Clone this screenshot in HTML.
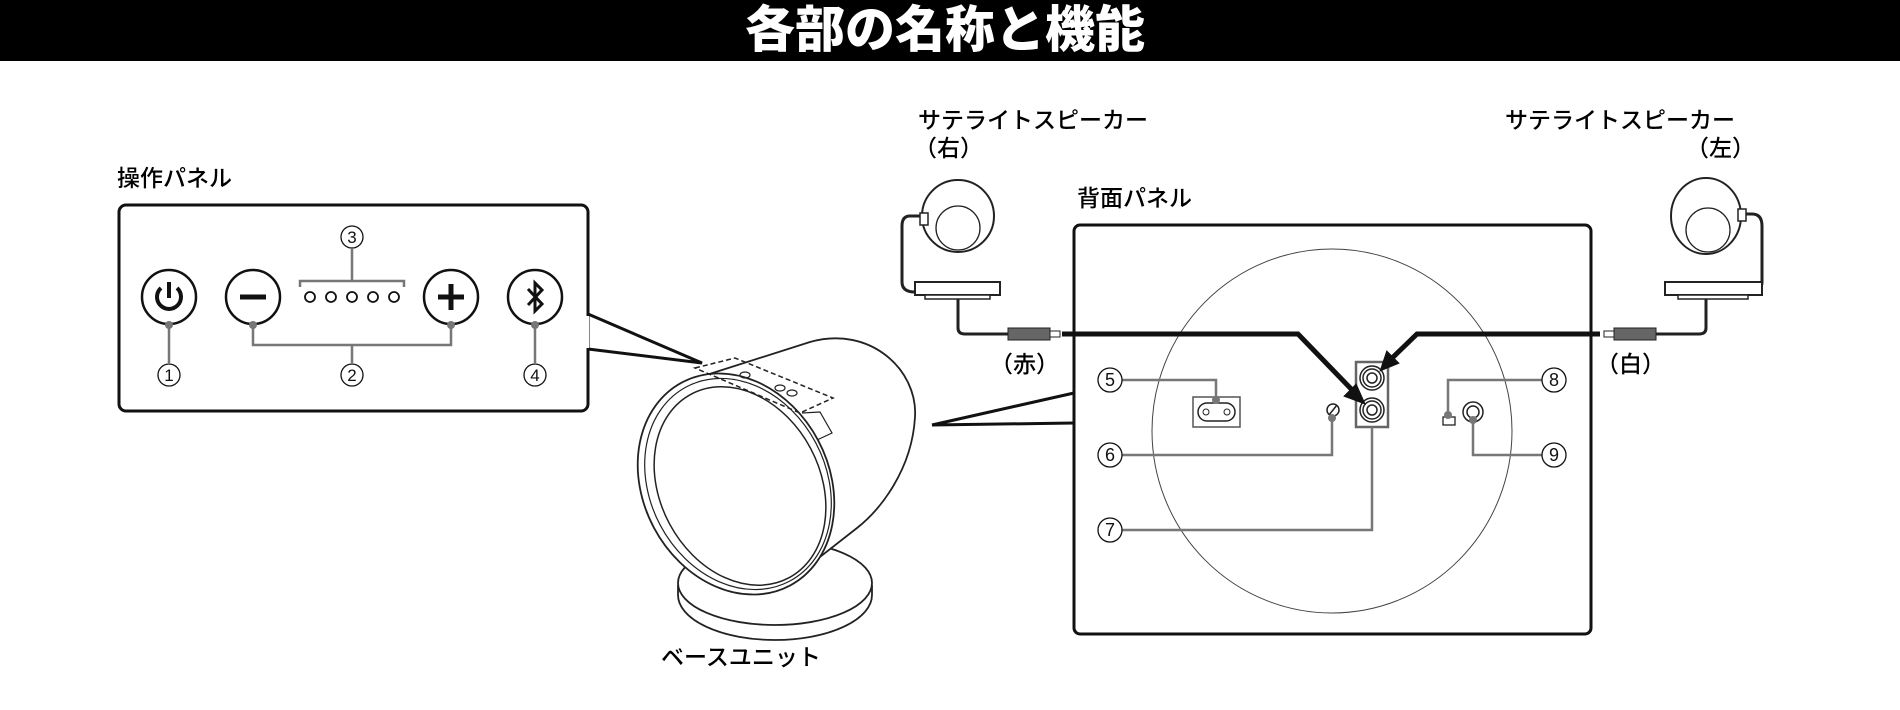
<!DOCTYPE html>
<html><head><meta charset="utf-8"><style>
html,body{margin:0;padding:0;background:#fff;}
svg{display:block;}
text{font-family:"Liberation Sans","Noto Sans CJK JP",sans-serif;}
</style></head><body>
<svg width="1900" height="710" viewBox="0 0 1900 710" xmlns="http://www.w3.org/2000/svg">
<rect x="0" y="0" width="1900" height="61" fill="#000"/>
<text x="945" y="47" text-anchor="middle" font-size="50" font-weight="bold" fill="#fff" style="font-family:'Noto Sans CJK JP',sans-serif;font-weight:900">各部の名称と機能</text>

<g font-size="23" fill="#000" style="font-family:'Noto Sans CJK JP',sans-serif;font-weight:500">
<text x="117" y="186">操作パネル</text>
<text x="918" y="128">サテライトスピーカー</text>
<text x="914" y="156">（右）</text>
<text x="1077" y="206">背面パネル</text>
<text x="1505" y="128">サテライトスピーカー</text>
<text x="1686" y="156">（左）</text>
<text x="990" y="372">（赤）</text>
<text x="1596" y="372">（白）</text>
<text x="661" y="665">ベースユニット</text>
</g>

<!-- operation panel -->
<rect x="119" y="205" width="469" height="206" rx="7" fill="none" stroke="#111" stroke-width="3"/>
<g fill="none" stroke="#111" stroke-width="2.5">
<circle cx="169" cy="297" r="27"/>
<circle cx="253" cy="297" r="27"/>
<circle cx="451" cy="297" r="27"/>
<circle cx="535" cy="297" r="27"/>
</g>
<path d="M161 288 A12 12 0 1 0 177 288 M169 282 V298" fill="none" stroke="#111" stroke-width="4"/>
<path d="M240 297 H266" stroke="#111" stroke-width="5"/>
<path d="M438 297 H464 M451 284 V310" stroke="#111" stroke-width="5"/>
<path d="M528 289 L542 304 L535 311 V283 L542 290 L528 305" fill="none" stroke="#111" stroke-width="3"/>
<g fill="none" stroke="#111" stroke-width="1.8">
<circle cx="310" cy="297" r="5"/><circle cx="331" cy="297" r="5"/><circle cx="352" cy="297" r="5"/><circle cx="373" cy="297" r="5"/><circle cx="394" cy="297" r="5"/>
</g>
<g fill="none" stroke="#777" stroke-width="2.5">
<path d="M300 287 V281 H404 V287 M352 281 V249"/>
<path d="M169 325 V363"/>
<path d="M253 325 V345 H451 V325 M352 345 V363"/>
<path d="M535 325 V363"/>
</g>
<g fill="#777"><circle cx="169" cy="325" r="4"/><circle cx="253" cy="325" r="4"/><circle cx="451" cy="325" r="4"/><circle cx="535" cy="325" r="4"/></g>
<g fill="#fff" stroke="#111" stroke-width="1.3">
<circle cx="352" cy="237" r="11"/><circle cx="169" cy="375" r="11"/><circle cx="352" cy="375" r="11"/><circle cx="535" cy="375" r="11"/>
</g>
<g font-size="17" text-anchor="middle" fill="#111">
<text x="352" y="243">3</text><text x="169" y="381">1</text><text x="352" y="381">2</text><text x="535" y="381">4</text>
</g>
<!-- callout to panel -->
<path d="M588 314 L702 363 L588 349" fill="none" stroke="#111" stroke-width="3"/>
<rect x="586" y="316" width="3" height="32" fill="#fff"/>

<!-- base unit -->
<g fill="#fff" stroke="#222" stroke-width="1.8">
<path d="M678 585 L678 595 A97 45 0 0 0 872 595 L872 585" />
<ellipse cx="775" cy="583" rx="97" ry="42"/>
<path d="M700 377 L810 342 C870 325 918 370 915 417 C912 470 880 510 857 528 L820 557 Z"/>
<ellipse cx="736" cy="484" rx="93" ry="115" transform="rotate(-28 736 484)"/>
<ellipse cx="738" cy="484" rx="88" ry="110" transform="rotate(-28 738 484)" fill="none" stroke-width="1.2"/>
<ellipse cx="740" cy="486" rx="80" ry="104" transform="rotate(-28 740 486)" fill="none" stroke-width="1.5"/>
</g>
<path d="M695 368 L735 358 L833 398 L800 413 Z" fill="none" stroke="#222" stroke-width="1.5" stroke-dasharray="5,3"/>
<path d="M802 413 L820 412 L832 433 L817 440" fill="none" stroke="#222" stroke-width="1.2"/>
<g fill="none" stroke="#222" stroke-width="1.2">
<ellipse cx="745" cy="375" rx="5" ry="3"/><ellipse cx="780" cy="388" rx="5" ry="3"/><ellipse cx="792" cy="393" rx="5" ry="3"/>
</g>

<!-- speaker right -->
<g fill="#fff" stroke="#222" stroke-width="2">
<path d="M922 216 H910 Q902 216 902 226 V282 Q902 292 915 292" fill="none" stroke-width="3"/>
<rect x="915" y="282" width="85" height="13"/>
<rect x="925" y="295" width="65" height="4" stroke-width="1.5"/>
<circle cx="958" cy="216" r="36"/>
<circle cx="958" cy="228" r="22" stroke-width="1.3"/>
<rect x="920" y="213" width="8" height="12" stroke-width="1.5"/>
<path d="M958 299 V328 Q958 334 965 334 H1008" fill="none" stroke-width="3"/>
</g>
<rect x="1008" y="328" width="42" height="12" fill="#666" stroke="#222"/>
<rect x="1050" y="331" width="10" height="6" fill="#fff" stroke="#222"/>
<!-- speaker left -->
<g fill="#fff" stroke="#222" stroke-width="2">
<path d="M1741 214 H1752 Q1762 214 1762 226 V282 Q1762 292 1750 292" fill="none" stroke-width="3"/>
<rect x="1665" y="282" width="97" height="13"/>
<rect x="1678" y="295" width="70" height="4" stroke-width="1.5"/>
<ellipse cx="1706" cy="216" rx="35" ry="38"/>
<circle cx="1708" cy="230" r="22" stroke-width="1.3"/>
<rect x="1738" y="209" width="8" height="12" stroke-width="1.5"/>
<path d="M1706 299 V328 Q1706 334 1699 334 H1656" fill="none" stroke-width="3"/>
</g>
<rect x="1614" y="328" width="42" height="12" fill="#666" stroke="#222"/>
<rect x="1604" y="331" width="10" height="6" fill="#fff" stroke="#222"/>

<!-- rear panel -->
<path d="M932 425 L1074 393 M932 425 L1074 423" stroke="#111" stroke-width="3"/>
<rect x="1074" y="225" width="517" height="409" rx="6" fill="#fff" stroke="#111" stroke-width="3"/>
<ellipse cx="1332" cy="431" rx="180" ry="182" fill="none" stroke="#444" stroke-width="1"/>
<!-- jacks -->
<rect x="1356" y="362" width="32" height="65" fill="#fff" stroke="#666" stroke-width="2.5"/>
<g fill="none" stroke="#222" stroke-width="1.5">
<circle cx="1372" cy="378" r="12"/><circle cx="1372" cy="378" r="9"/><circle cx="1372" cy="378" r="5"/>
<circle cx="1372" cy="410" r="12"/><circle cx="1372" cy="410" r="9"/><circle cx="1372" cy="410" r="5"/>
</g>
<!-- cables -->
<path d="M1062 334 H1298 L1357 395" fill="none" stroke="#111" stroke-width="5"/>
<path d="M1364 403 L1345 396 L1356 385 Z" fill="#111" stroke="#111" stroke-width="2"/>
<path d="M1600 334 H1417 L1388 362" fill="none" stroke="#111" stroke-width="5"/>
<path d="M1381 370 L1387 352 L1398 363 Z" fill="#111" stroke="#111" stroke-width="2"/>
<!-- parts -->
<rect x="1193" y="397" width="47" height="30" fill="#fff" stroke="#555" stroke-width="1.5"/>
<path d="M1207 403 H1226 A9 9 0 0 1 1226 421 H1207 A9 9 0 0 1 1207 403 Z" fill="none" stroke="#222" stroke-width="1.5"/>
<circle cx="1206" cy="412" r="3" fill="none" stroke="#222"/><circle cx="1227" cy="412" r="3" fill="none" stroke="#222"/>
<circle cx="1333" cy="410" r="6" fill="#fff" stroke="#222" stroke-width="1.5"/>
<path d="M1329 415 L1337 405" stroke="#222" stroke-width="1.5"/>
<rect x="1443" y="417" width="12" height="8" fill="#fff" stroke="#222" stroke-width="1.3"/>
<circle cx="1473" cy="412" r="10" fill="#fff" stroke="#222" stroke-width="1.5"/>
<circle cx="1473" cy="412" r="6" fill="none" stroke="#222" stroke-width="1.5"/>
<g fill="none" stroke="#777" stroke-width="2.5">
<path d="M1122 380 H1216 V400"/>
<path d="M1122 455 H1332 V418"/>
<path d="M1122 530 H1372 V427"/>
<path d="M1542 380 H1448 V417"/>
<path d="M1542 455 H1473 V420"/>
</g>
<g fill="#777"><circle cx="1216" cy="400" r="4"/><circle cx="1332" cy="418" r="4"/><circle cx="1448" cy="415" r="4"/><circle cx="1473" cy="420" r="4"/></g>
<g fill="#fff" stroke="#111" stroke-width="1.3">
<circle cx="1110" cy="380" r="12"/><circle cx="1110" cy="455" r="12"/><circle cx="1110" cy="530" r="12"/>
<circle cx="1554" cy="380" r="12"/><circle cx="1554" cy="455" r="12"/>
</g>
<g font-size="18" text-anchor="middle" fill="#111">
<text x="1110" y="386">5</text><text x="1110" y="461">6</text><text x="1110" y="536">7</text>
<text x="1554" y="386">8</text><text x="1554" y="461">9</text>
</g>
</svg>
</body></html>
